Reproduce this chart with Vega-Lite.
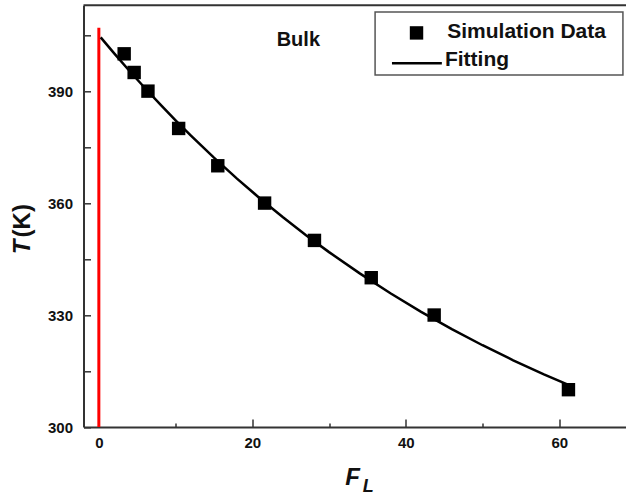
{
  "$schema": "https://vega.github.io/schema/vega-lite/v6.json",
  "width": 542.5,
  "height": 421.7,
  "autosize": {"type": "none"},
  "padding": {"left": 83.5, "top": 5.3, "right": 0, "bottom": 68},
  "config": {
    "view": {"stroke": null},
    "font": "Liberation Sans",
    "axis": {
      "domainColor": "#333333",
      "domainWidth": 2,
      "tickColor": "#333333",
      "tickWidth": 1.5,
      "labelFont": "Liberation Sans",
      "labelFontSize": 15,
      "labelFontWeight": "bold",
      "labelColor": "#111111",
      "grid": false,
      "title": null
    }
  },
  "datasets": {
    "simulation": [
      {"FL": 3.3, "T": 400},
      {"FL": 4.6, "T": 395},
      {"FL": 6.4, "T": 390},
      {"FL": 10.4, "T": 380},
      {"FL": 15.5, "T": 370},
      {"FL": 21.6, "T": 360},
      {"FL": 28.1, "T": 350},
      {"FL": 35.5, "T": 340},
      {"FL": 43.7, "T": 330},
      {"FL": 61.2, "T": 310}
    ],
    "fitting": [
      {"FL": 0.24, "T": 404.4},
      {"FL": 2, "T": 400.11},
      {"FL": 4, "T": 395.39},
      {"FL": 6, "T": 390.83},
      {"FL": 8, "T": 386.43},
      {"FL": 10, "T": 382.17},
      {"FL": 12, "T": 378.06},
      {"FL": 15, "T": 372.16},
      {"FL": 18, "T": 366.56},
      {"FL": 21, "T": 361.25},
      {"FL": 24, "T": 356.2},
      {"FL": 27, "T": 351.41},
      {"FL": 30, "T": 346.86},
      {"FL": 34, "T": 341.16},
      {"FL": 38, "T": 335.83},
      {"FL": 42, "T": 330.86},
      {"FL": 46, "T": 326.23},
      {"FL": 50, "T": 321.91},
      {"FL": 54, "T": 317.88},
      {"FL": 58, "T": 314.11},
      {"FL": 61.2, "T": 311.29}
    ],
    "single": [{}]
  },
  "layer": [
    {
      "data": {"name": "single"},
      "mark": {"type": "rule", "color": "#ff0000", "strokeWidth": 3},
      "encoding": {
        "x": {
          "datum": 0,
          "type": "quantitative",
          "scale": {"domain": [-2, 68.7], "nice": false, "zero": false},
          "axis": {
            "values": [0, 10, 20, 30, 40, 50, 60],
            "labelExpr": "datum.value % 20 === 0 ? datum.label : ''",
            "tickSize": {"expr": "datum.value % 20 === 0 ? -8 : -4"},
            "labelPadding": 16,
            "labelFlush": false
          }
        },
        "y": {
          "datum": 300,
          "type": "quantitative",
          "scale": {"domain": [300, 413], "nice": false, "zero": false},
          "axis": {
            "values": [300, 315, 330, 345, 360, 375, 390, 405],
            "labelExpr": "datum.value % 30 === 0 ? datum.label : ''",
            "tickSize": -7,
            "labelPadding": 18,
            "labelFlush": false
          }
        },
        "y2": {"datum": 407}
      }
    },
    {
      "data": {"name": "single"},
      "mark": {"type": "rule", "color": "#333333", "strokeWidth": 2},
      "encoding": {
        "x": {"datum": -2, "type": "quantitative"},
        "x2": {"datum": 68.7},
        "y": {"datum": 413, "type": "quantitative"}
      }
    },
    {
      "data": {"name": "fitting"},
      "mark": {"type": "line", "color": "#000000", "strokeWidth": 2.5},
      "encoding": {
        "x": {"field": "FL", "type": "quantitative"},
        "y": {"field": "T", "type": "quantitative"}
      }
    },
    {
      "data": {"name": "simulation"},
      "mark": {"type": "point", "filled": true, "color": "#000000", "opacity": 1, "shape": "square", "size": 180},
      "encoding": {
        "x": {"field": "FL", "type": "quantitative"},
        "y": {"field": "T", "type": "quantitative"}
      }
    },
    {
      "data": {"name": "single"},
      "mark": {"type": "rect", "fill": "#ffffff", "stroke": "#555555", "strokeWidth": 1.5},
      "encoding": {
        "x": {"datum": 36.0, "type": "quantitative"},
        "x2": {"datum": 68.3},
        "y": {"datum": 411.2, "type": "quantitative"},
        "y2": {"datum": 394.3}
      }
    },
    {
      "data": {"name": "single"},
      "mark": {"type": "point", "filled": true, "color": "#000000", "opacity": 1, "shape": "square", "size": 180},
      "encoding": {
        "x": {"datum": 41.4, "type": "quantitative"},
        "y": {"datum": 405.6, "type": "quantitative"}
      }
    },
    {
      "data": {"name": "single"},
      "mark": {"type": "rule", "color": "#000000", "strokeWidth": 2.5},
      "encoding": {
        "x": {"datum": 38.2, "type": "quantitative"},
        "x2": {"datum": 44.7},
        "y": {"datum": 397.5, "type": "quantitative"}
      }
    },
    {
      "data": {"name": "single"},
      "mark": {"type": "text", "text": "Simulation Data", "font": "Liberation Sans", "fontSize": 21, "fontWeight": "bold", "color": "#111111", "align": "left", "baseline": "middle"},
      "encoding": {
        "x": {"datum": 45.4, "type": "quantitative"},
        "y": {"datum": 405.8, "type": "quantitative"}
      }
    },
    {
      "data": {"name": "single"},
      "mark": {"type": "text", "text": "Fitting", "font": "Liberation Sans", "fontSize": 21, "fontWeight": "bold", "color": "#111111", "align": "left", "baseline": "middle"},
      "encoding": {
        "x": {"datum": 45.1, "type": "quantitative"},
        "y": {"datum": 398.3, "type": "quantitative"}
      }
    },
    {
      "data": {"name": "single"},
      "mark": {"type": "text", "text": "Bulk", "font": "Liberation Sans", "fontSize": 20, "fontWeight": "bold", "color": "#111111", "align": "center", "baseline": "alphabetic"},
      "encoding": {
        "x": {"datum": 26, "type": "quantitative"},
        "y": {"datum": 402.1, "type": "quantitative"}
      }
    },
    {
      "data": {"name": "single"},
      "mark": {"type": "text", "text": "F", "font": "Liberation Sans", "fontSize": 24, "fontWeight": "bold", "fontStyle": "italic", "color": "#111111", "align": "left", "baseline": "alphabetic"},
      "encoding": {
        "x": {"datum": 32.1, "type": "quantitative"},
        "y": {"datum": 284.5, "type": "quantitative"}
      }
    },
    {
      "data": {"name": "single"},
      "mark": {"type": "text", "text": "L", "font": "Liberation Sans", "fontSize": 18, "fontWeight": "bold", "fontStyle": "italic", "color": "#111111", "align": "left", "baseline": "alphabetic"},
      "encoding": {
        "x": {"datum": 34.4, "type": "quantitative"},
        "y": {"datum": 282.6, "type": "quantitative"}
      }
    },
    {
      "data": {"name": "single"},
      "mark": {"type": "text", "text": "T", "font": "Liberation Sans", "fontSize": 24, "fontWeight": "bold", "fontStyle": "italic", "color": "#111111", "align": "left", "baseline": "alphabetic", "angle": 270},
      "encoding": {
        "x": {"datum": -8.97, "type": "quantitative"},
        "y": {"datum": 346.3, "type": "quantitative"}
      }
    },
    {
      "data": {"name": "single"},
      "mark": {"type": "text", "text": "(K)", "font": "Liberation Sans", "fontSize": 24, "fontWeight": "bold", "color": "#111111", "align": "left", "baseline": "alphabetic", "angle": 270},
      "encoding": {
        "x": {"datum": -8.97, "type": "quantitative"},
        "y": {"datum": 350.8, "type": "quantitative"}
      }
    }
  ]
}
